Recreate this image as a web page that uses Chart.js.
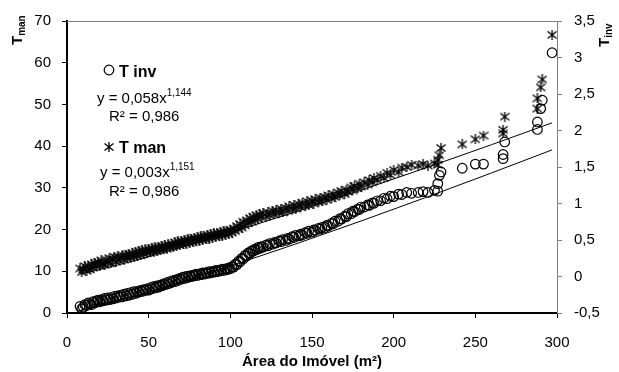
<!DOCTYPE html>
<html>
<head>
<meta charset="utf-8">
<script src="https://cdn.jsdelivr.net/npm/chart.js@4.4.0/dist/chart.umd.min.js"></script>
<style>
  html, body { margin: 0; padding: 0; background: #fff; }
  #wrap { width: 619px; height: 372px; }
</style>
</head>
<body>
<div id="wrap"><canvas id="chart" width="619" height="372"></canvas></div>
<script>
// area of each property (m²)
const area = [
  8,9,10,11,12,13,14,15,16,17,
  18,19,20,21,22,23,24,25,26,27,
  28,29,30,31,32,33,34,35,36,37,
  38,39,40,41,42,43,44,45,46,47,
  48,49,50,51,52,53,54,55,56,57,
  58,59,60,61,62,63,64,65,66,67,
  68,69,70,71,72,73,74,75,76,77,
  78,79,80,81,82,83,84,85,86,87,
  88,89,90,91,92,93,94,95,96,97,
  98,99,100,101,102,103,104,105,106,107,
  108,109,110,111,112,113,114,115,116,117,
  118,119,120,122,123,124,126,127,128,130,
  131,132,134,135,136,138,139,140,142,143,
  144,146,147,148,150,151,152,154,155,156,
  158,159,160,162,163,164,166,167,168,170,
  171,172,174,175,176,178,179,180,182,184,
  185,187,188,190,192,194,196,198,200,203,
  205,208,211,215,218,221,225,227,227,228,
  229,242,250,255,267,267,268,288,288,290,
  291,297
];
// circles, read on the left scale
const tInv = [
  1.6,1.0,1.4,2.0,1.8,2.4,2.2,2.0,2.7,2.4,
  2.9,3.1,2.7,3.2,2.9,3.5,3.1,3.6,3.2,3.7,
  3.4,4.0,3.6,4.1,3.8,4.3,3.9,4.5,4.1,4.7,
  4.3,4.9,4.5,5.1,4.7,5.2,5.0,5.4,5.2,5.6,
  5.4,5.8,5.5,6.1,5.8,6.3,6.0,6.5,6.2,6.7,
  6.5,7.0,6.8,7.3,7.0,7.5,7.3,7.8,7.5,8.0,
  7.8,8.3,8.1,8.6,8.3,8.8,8.5,8.9,8.7,9.1,
  8.9,9.3,9.0,9.4,9.2,9.6,9.3,9.7,9.5,9.9,
  9.6,10.0,9.8,10.2,9.9,10.3,10.1,10.5,10.2,10.6,
  10.4,10.8,10.6,11.1,11.0,11.7,11.6,12.4,12.3,13.1,
  13.0,13.8,13.7,14.4,14.3,14.9,14.8,15.3,15.2,15.7,
  15.5,15.9,15.8,16.3,16.1,16.6,16.5,16.9,16.8,17.3,
  17.1,17.6,17.4,17.9,17.7,18.3,18.1,18.6,18.5,18.9,
  18.7,19.3,19.1,19.6,19.4,19.9,19.8,20.3,20.1,20.5,
  20.5,21.0,20.9,21.5,21.4,22.0,22.0,22.6,22.5,23.2,
  23.1,23.8,23.8,24.4,24.3,24.9,24.8,25.4,25.4,25.9,
  25.8,26.4,26.3,26.9,26.9,27.5,27.4,28.0,27.9,28.5,
  28.4,28.9,28.7,28.9,29.1,28.9,29.4,29.2,31.0,33.0,
  33.8,34.7,35.7,35.7,37.0,38.0,41.0,44.0,45.8,49.0,
  51.0,62.4
];
// asterisks, read on the right scale
const tMan = [
  0.11,0.06,0.10,0.14,0.08,0.15,0.10,0.17,0.12,0.19,
  0.14,0.20,0.15,0.22,0.17,0.16,0.23,0.19,0.25,0.18,
  0.24,0.27,0.20,0.28,0.22,0.26,0.29,0.23,0.30,0.25,
  0.31,0.26,0.32,0.27,0.34,0.28,0.35,0.29,0.36,0.31,
  0.37,0.32,0.38,0.33,0.39,0.34,0.40,0.35,0.41,0.36,
  0.42,0.37,0.43,0.38,0.44,0.40,0.45,0.41,0.47,0.42,
  0.48,0.43,0.49,0.44,0.50,0.45,0.51,0.46,0.52,0.47,
  0.53,0.48,0.54,0.49,0.55,0.50,0.56,0.51,0.57,0.52,
  0.58,0.53,0.59,0.54,0.60,0.55,0.61,0.56,0.62,0.57,
  0.63,0.58,0.64,0.60,0.66,0.62,0.69,0.65,0.72,0.67,
  0.75,0.70,0.77,0.73,0.80,0.75,0.82,0.77,0.84,0.79,
  0.85,0.81,0.87,0.82,0.88,0.84,0.90,0.85,0.91,0.87,
  0.93,0.88,0.94,0.90,0.96,0.92,0.98,0.93,0.99,0.95,
  1.01,0.97,1.03,0.98,1.04,1.00,1.06,1.02,1.08,1.03,
  1.09,1.05,1.11,1.07,1.13,1.09,1.15,1.11,1.17,1.13,
  1.19,1.16,1.22,1.18,1.24,1.21,1.27,1.23,1.29,1.26,
  1.32,1.29,1.35,1.32,1.38,1.35,1.42,1.39,1.46,1.43,
  1.49,1.50,1.53,1.52,1.54,1.52,1.55,1.53,1.60,1.66,
  1.76,1.81,1.88,1.93,1.96,2.01,2.19,2.30,2.44,2.59,
  2.70,3.31
];

// power trendlines y = a*x^b, as printed on the chart
const invFit = { a: 0.058, b: 1.144 };
const manFit = { a: 0.003, b: 1.151 };
const fitX = [8, 20, 40, 70, 100, 140, 180, 220, 260, 297];

const xTicks = { min: 0, max: 300, step: 50 };
const leftTicks = { min: 0, max: 70, step: 10 };
const rightTicks = { min: -0.5, max: 3.5, step: 0.5 };

const FONT = '"Liberation Sans", Arial, sans-serif';

function makeStar() {
  const c = document.createElement('canvas');
  c.width = 10; c.height = 10;
  const g = c.getContext('2d');
  g.strokeStyle = '#000';
  g.lineWidth = 1.3;
  g.beginPath();
  g.moveTo(0.5, 1.5); g.lineTo(9.5, 8.5);
  g.moveTo(9.5, 1.5); g.lineTo(0.5, 8.5);
  g.moveTo(5, 0); g.lineTo(5, 10);
  g.stroke();
  return c;
}
const star = makeStar();

const comma = v => String(Math.round(v * 10) / 10).replace('.', ',');

function drawEq(ctx, x, y, main, sup) {
  ctx.font = '15px ' + FONT;
  ctx.fillText(main, x, y);
  if (sup) {
    const w = ctx.measureText(main).width;
    ctx.font = '10px ' + FONT;
    ctx.fillText(sup, x + w, y - 7);
  }
}

function vTitle(ctx, x, y, main, sub) {
  ctx.save();
  ctx.translate(x, y);
  ctx.rotate(-Math.PI / 2);
  ctx.font = 'bold 15px ' + FONT;
  ctx.fillText(main, 0, 0);
  const w = ctx.measureText(main).width;
  ctx.font = 'bold 10px ' + FONT;
  ctx.fillText(sub, w, 3);
  ctx.restore();
}

const notes = {
  id: 'notes',
  afterDraw(chart) {
    const ctx = chart.ctx;
    const ca = chart.chartArea;
    ctx.save();
    // top frame line
    ctx.strokeStyle = '#808080';
    ctx.lineWidth = 1;
    ctx.beginPath();
    ctx.moveTo(ca.left, ca.top + 0.5);
    ctx.lineTo(ca.right, ca.top + 0.5);
    ctx.stroke();

    ctx.fillStyle = '#000';
    ctx.strokeStyle = '#000';
    ctx.lineWidth = 1.2;
    ctx.textBaseline = 'alphabetic';
    ctx.textAlign = 'left';

    // legend marks
    ctx.beginPath();
    ctx.arc(109, 70, 4.8, 0, Math.PI * 2);
    ctx.stroke();
    ctx.drawImage(star, 104, 142);

    ctx.font = 'bold 16px ' + FONT;
    ctx.fillText('T inv', 119, 77);
    ctx.fillText('T man', 119, 153);

    drawEq(ctx, 97, 103, 'y = 0,058x', '1,144');
    drawEq(ctx, 109, 121, 'R² = 0,986');
    drawEq(ctx, 100, 177, 'y = 0,003x', '1,151');
    drawEq(ctx, 109, 196, 'R² = 0,986');

    vTitle(ctx, 22, 45, 'T', 'man');
    vTitle(ctx, 609, 47, 'T', 'inv');
    ctx.restore();
  }
};

const ctx = document.getElementById('chart').getContext('2d');
new Chart(ctx, {
  type: 'scatter',
  data: {
    datasets: [
      {
        label: 'T inv fit',
        data: fitX.map(x => ({ x: x, y: invFit.a * Math.pow(x, invFit.b) })),
        yAxisID: 'y',
        showLine: true,
        borderColor: '#000',
        borderWidth: 1,
        pointRadius: 0
      },
      {
        label: 'T man fit',
        data: fitX.map(x => ({ x: x, y: manFit.a * Math.pow(x, manFit.b) })),
        yAxisID: 'y1',
        showLine: true,
        borderColor: '#000',
        borderWidth: 1,
        pointRadius: 0
      },
      {
        label: 'T inv',
        data: area.map((x, i) => ({ x: x, y: tInv[i] })),
        yAxisID: 'y',
        pointStyle: 'circle',
        pointRadius: 4.8,
        borderWidth: 1.2,
        borderColor: '#000',
        backgroundColor: 'rgba(0,0,0,0)'
      },
      {
        label: 'T man',
        data: area.map((x, i) => ({ x: x, y: tMan[i] })),
        yAxisID: 'y1',
        pointStyle: star,
        pointRadius: 5,
        borderColor: '#000',
        backgroundColor: '#000'
      }
    ]
  },
  options: {
    responsive: false,
    animation: false,
    events: [],
    layout: { padding: { top: 17, left: 0, right: 0, bottom: 0 } },
    plugins: {
      legend: { display: false },
      tooltip: { enabled: false }
    },
    scales: {
      x: {
        type: 'linear',
        min: xTicks.min, max: xTicks.max,
        afterFit: s => { s.height = 59; },
        ticks: { stepSize: xTicks.step, color: '#000', font: { family: FONT, size: 15 }, padding: 16, maxRotation: 0 },
        grid: { drawOnChartArea: false, drawTicks: true, tickLength: 5, tickColor: '#000', tickWidth: 1 },
        border: { color: '#000', width: 2 },
        title: { display: true, text: 'Área do Imóvel (m²)', color: '#000', font: { family: FONT, size: 15, weight: 'bold' }, padding: { top: 1, bottom: 1 } }
      },
      y: {
        position: 'left',
        min: leftTicks.min, max: leftTicks.max,
        afterFit: s => { s.width = 67; },
        ticks: { stepSize: leftTicks.step, color: '#000', font: { family: FONT, size: 15 }, padding: 11 },
        grid: { drawOnChartArea: false, drawTicks: true, tickLength: 5, tickColor: '#000', tickWidth: 1 },
        border: { color: '#000', width: 2 }
      },
      y1: {
        position: 'right',
        min: rightTicks.min, max: rightTicks.max,
        afterFit: s => { s.width = 62; },
        ticks: { stepSize: rightTicks.step, color: '#000', font: { family: FONT, size: 15 }, padding: 12, callback: v => comma(v) },
        grid: { drawOnChartArea: false, drawTicks: true, tickLength: 5, tickColor: '#808080', tickWidth: 1 },
        border: { color: '#808080', width: 1 }
      }
    }
  },
  plugins: [notes]
});
</script>
</body>
</html>
